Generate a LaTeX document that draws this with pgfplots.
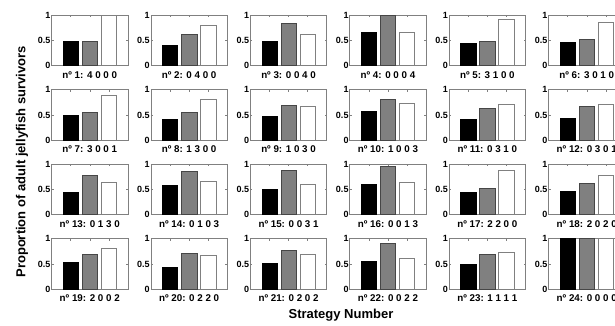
\documentclass[border=0pt]{standalone}
\usepackage{fontspec}
\setmainfont{Liberation Sans}
\usepackage{pgfplots}
\pgfplotsset{compat=1.18}
\definecolor{framegray}{RGB}{128,128,128}
\definecolor{bargray}{RGB}{128,128,128}
\definecolor{edgegray}{RGB}{70,70,70}
\pgfplotsset{panel/.style={
  scale only axis, width=76.5pt, height=50.5pt, anchor=south west,
  xmin=0, xmax=4, ymin=0, ymax=1,
  xtick={1,2,3}, xticklabels={},
  ytick={0,0.5,1}, yticklabels={0,0.5,1},
  xtick pos=both, ytick pos=both, yticklabel pos=left,
  tick align=inside, major tick length=2pt,
  axis line style={draw=framegray, line width=0.7pt},
  tick style={draw=framegray, line width=0.5pt},
  /pgf/number format/assume math mode=true,
  yticklabel style={font=\bfseries\fontsize{9}{9}\selectfont, inner sep=1pt},
  xlabel style={font=\bfseries\fontsize{9.8}{9.8}\selectfont, at={(axis description cs:0.5,0)}, anchor=base, yshift=-12.5pt, inner sep=0pt},
}}
\newcommand\panel[6]{%
\begin{axis}[panel, at={(#1pt,#2pt)}, xlabel={#3}]
\addplot[ybar, bar width=0.8, bar shift=0pt, fill=black, draw=black, line width=0.5pt] coordinates {(1,#4)};
\addplot[ybar, bar width=0.8, bar shift=0pt, fill=bargray, draw=edgegray, line width=0.5pt] coordinates {(2,#5)};
\addplot[ybar, bar width=0.8, bar shift=0pt, fill=white, draw=framegray, line width=0.7pt] coordinates {(3,#6)};
\end{axis}}
\begin{document}
\begin{tikzpicture}
\useasboundingbox (0,0) rectangle (615pt,326pt);
\clip (0,0) rectangle (615pt,326pt);
% row 1
\panel{51.5}{260.3}{nº 1: 4 0 0 0}{0.48}{0.48}{1.00}
\panel{150.9}{260.3}{nº 2: 0 4 0 0}{0.41}{0.62}{0.79}
\panel{250.3}{260.3}{nº 3: 0 0 4 0}{0.48}{0.85}{0.62}
\panel{349.7}{260.3}{nº 4: 0 0 0 4}{0.66}{1.00}{0.66}
\panel{449.1}{260.3}{nº 5: 3 1 0 0}{0.44}{0.49}{0.92}
\panel{548.5}{260.3}{nº 6: 3 0 1 0}{0.47}{0.53}{0.86}
% row 2
\panel{51.5}{185.8}{nº 7: 3 0 0 1}{0.49}{0.55}{0.88}
\panel{150.9}{185.8}{nº 8: 1 3 0 0}{0.41}{0.55}{0.80}
\panel{250.3}{185.8}{nº 9: 1 0 3 0}{0.47}{0.70}{0.67}
\panel{349.7}{185.8}{nº 10: 1 0 0 3}{0.58}{0.81}{0.72}
\panel{449.1}{185.8}{nº 11: 0 3 1 0}{0.41}{0.64}{0.70}
\panel{548.5}{185.8}{nº 12: 0 3 0 1}{0.44}{0.67}{0.71}
% row 3
\panel{51.5}{111.3}{nº 13: 0 1 3 0}{0.45}{0.78}{0.64}
\panel{150.9}{111.3}{nº 14: 0 1 0 3}{0.58}{0.87}{0.67}
\panel{250.3}{111.3}{nº 15: 0 0 3 1}{0.51}{0.88}{0.61}
\panel{349.7}{111.3}{nº 16: 0 0 1 3}{0.60}{0.96}{0.64}
\panel{449.1}{111.3}{nº 17: 2 2 0 0}{0.44}{0.52}{0.87}
\panel{548.5}{111.3}{nº 18: 2 0 2 0}{0.46}{0.62}{0.77}
% row 4
\panel{51.5}{36.8}{nº 19: 2 0 0 2}{0.54}{0.69}{0.81}
\panel{150.9}{36.8}{nº 20: 0 2 2 0}{0.44}{0.71}{0.68}
\panel{250.3}{36.8}{nº 21: 0 2 0 2}{0.51}{0.77}{0.69}
\panel{349.7}{36.8}{nº 22: 0 0 2 2}{0.56}{0.91}{0.61}
\panel{449.1}{36.8}{nº 23: 1 1 1 1}{0.49}{0.69}{0.73}
\panel{548.5}{36.8}{nº 24: 0 0 0 0}{1.00}{1.00}{1.00}
\node[rotate=90, font=\bfseries\fontsize{13}{13}\selectfont] at (22pt,164pt) {Proportion of adult jellyfish survivors};
\node[font=\bfseries\fontsize{13}{13}\selectfont] at (341pt,11pt) {Strategy Number};
\end{tikzpicture}
\end{document}
